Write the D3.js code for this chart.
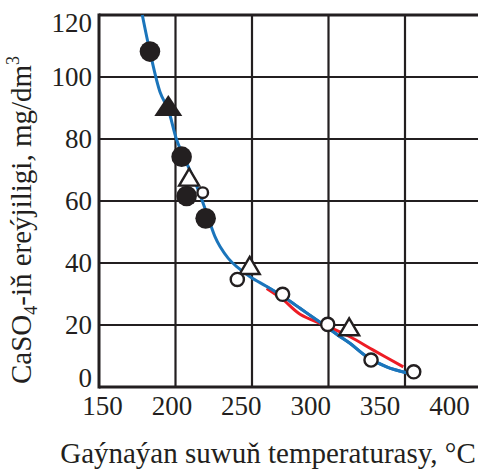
<!DOCTYPE html>
<html><head><meta charset="utf-8">
<script src="https://cdn.jsdelivr.net/npm/d3@7"></script>
<style>html,body{margin:0;padding:0;background:#fff;}svg{display:block;}</style>
</head><body>
<script>
// ---- data ----
const xTicks = [150, 200, 250, 300, 350, 400];
const yTicks = [0, 20, 40, 60, 80, 100, 120];
const filledCircles = [[183.3,108.2],[204,74.3],[207.3,61.6],[219.7,54.4]];
const filledTriangles = [[195.3,89.7]];
const openTriangles = [[208.9,66.8],[248.5,38.3],[313.5,18.5]];
const openCircles = [[240.4,34.7],[270,29.9],[299.5,20.2],[327.8,8.7],[355.7,4.9]];
const smallOpenCircles = [[217.8,62.7]];
const blueCurve = [[178.3,120],[183.3,108.2],[190,95],[195.3,89.4],[200.8,79.7],[208.4,71],[214.9,63.5],[220.4,56],[225.8,48.5],[229.1,45.3],[234.5,41.5],[240,38.8],[248.7,35.6],[259.6,32.4],[270.5,29.1],[281.4,25.4],[292.3,21.6],[298.4,19.5],[306,16.8],[314,14.1],[325,9.8],[338,6.5],[351,4.6],[355.4,4.2]];
const redCurve = [[259.6,31.8],[270.5,28.1],[281.4,23.5],[298.8,19.7],[314,16.2],[329.3,11.9],[348.9,6.5]];

const W = 478, H = 472;
const svg = d3.select("body").append("svg").attr("width", W).attr("height", H);

const x = d3.scaleLinear().domain([150, 350]).range([99, 405]);
const xLab = d3.scaleLinear().domain([150, 400]).range([102, 449]);
const y = d3.scaleLinear().domain([0, 120]).range([387, 15]);

const ink = "#231f20";
const font = "Liberation Serif";

// grid
const g = svg.append("g");
g.selectAll("line.v").data(xTicks.filter(d => d > 150 && d < 400)).enter().append("line")
  .attr("x1", d => x(d)).attr("x2", d => x(d)).attr("y1", y(120)).attr("y2", y(0))
  .attr("stroke", ink).attr("stroke-width", 2.2);
g.selectAll("line.h").data(yTicks.filter(d => d > 0 && d < 120)).enter().append("line")
  .attr("x1", x(150)).attr("x2", W).attr("y1", d => y(d)).attr("y2", d => y(d))
  .attr("stroke", ink).attr("stroke-width", 2.2);
// borders
g.append("line").attr("x1", x(150)).attr("x2", W).attr("y1", y(120)).attr("y2", y(120)).attr("stroke", ink).attr("stroke-width", 3);
g.append("line").attr("x1", x(150)).attr("x2", W).attr("y1", y(0)).attr("y2", y(0)).attr("stroke", ink).attr("stroke-width", 3);
g.append("line").attr("x1", x(150)).attr("x2", x(150)).attr("y1", y(120) - 1.5).attr("y2", y(0) + 1.5).attr("stroke", ink).attr("stroke-width", 3);

// axes labels
const xa = svg.append("g").attr("transform", `translate(0,${y(0)})`)
  .call(d3.axisBottom(xLab).tickValues(xTicks).tickSize(0).tickPadding(9));
xa.select(".domain").remove();
xa.selectAll("text").attr("font-family", font).attr("font-size", 27).attr("fill", ink).attr("dy", "0.71em");

const ya = svg.append("g").attr("transform", `translate(${x(150) - 7},0)`)
  .call(d3.axisLeft(y).tickValues(yTicks).tickSize(0).tickPadding(0));
ya.select(".domain").remove();
ya.selectAll("text").attr("font-family", font).attr("font-size", 27).attr("fill", ink)
  .attr("transform", d => d === 120 ? "translate(0,8)" : d === 0 ? "translate(0,-9)" : null);

// curves
const line = d3.line().x(d => x(d[0])).y(d => y(d[1])).curve(d3.curveCatmullRom.alpha(0.5));
svg.append("path").datum(blueCurve).attr("d", line).attr("fill", "none").attr("stroke", "#1b75bb").attr("stroke-width", 3);
svg.append("path").datum(redCurve).attr("d", line).attr("fill", "none").attr("stroke", "#ed1c24").attr("stroke-width", 3);
svg.append("path").datum(blueCurve.filter(d => d[0] > 255)).attr("d", line).attr("fill", "none").attr("stroke", "#1b75bb").attr("stroke-width", 3);

// markers
const tri = (cx, cy, w, h) => `M${cx - w/2},${cy + h/3}L${cx + w/2},${cy + h/3}L${cx},${cy - 2*h/3}Z`;
svg.selectAll("path.ft").data(filledTriangles).enter().append("path")
  .attr("d", d => tri(x(d[0]), y(d[1]), 28, 21)).attr("fill", ink);
svg.selectAll("circle.fc").data(filledCircles).enter().append("circle")
  .attr("cx", d => x(d[0])).attr("cy", d => y(d[1])).attr("r", 10.3).attr("fill", ink);
svg.selectAll("path.ot").data(openTriangles).enter().append("path")
  .attr("d", d => tri(x(d[0]), y(d[1]), 20, 17)).attr("fill", "#fff").attr("stroke", ink).attr("stroke-width", 2.4).attr("stroke-linejoin", "miter");
svg.selectAll("circle.sc").data(smallOpenCircles).enter().append("circle")
  .attr("cx", d => x(d[0])).attr("cy", d => y(d[1])).attr("r", 5.3).attr("fill", "#fff").attr("stroke", ink).attr("stroke-width", 2.4);
svg.selectAll("circle.oc").data(openCircles).enter().append("circle")
  .attr("cx", d => x(d[0])).attr("cy", d => y(d[1])).attr("r", 6.6).attr("fill", "#fff").attr("stroke", ink).attr("stroke-width", 2.4);

// titles
svg.append("text").attr("x", 268).attr("y", 463).attr("text-anchor", "middle")
  .attr("font-family", font).attr("font-size", 29).attr("fill", ink)
  .text("Gaýnaýan suwuň temperaturasy, °C");

const yt = svg.append("text").attr("transform", "translate(31,220) rotate(-90)").attr("text-anchor", "middle")
  .attr("font-family", font).attr("font-size", 29).attr("fill", ink);
yt.append("tspan").text("CaSO");
yt.append("tspan").attr("font-size", 18).attr("dy", 6).text("4");
yt.append("tspan").attr("dy", -6).text("-iň ereýjiligi, mg/dm");
yt.append("tspan").attr("font-size", 18).attr("dy", -12).text("3");
</script>
</body></html>
